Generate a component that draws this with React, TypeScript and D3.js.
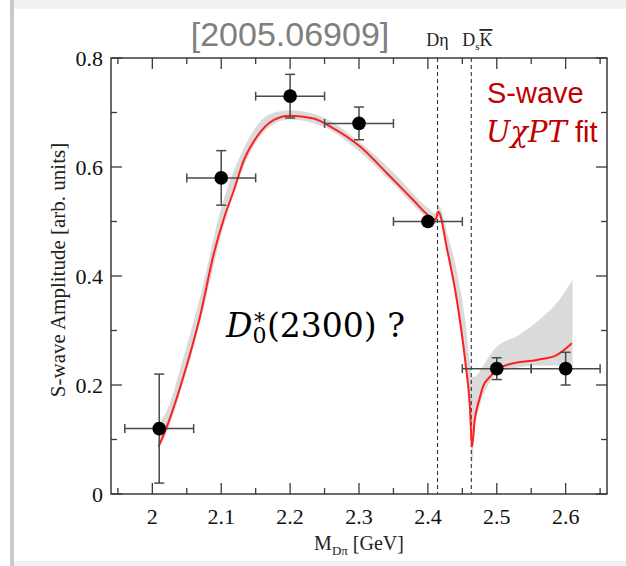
import React, { useEffect, useRef } from 'react';
import * as d3 from 'd3';

// measured points (lattice-like data)
const massBins = [2.01, 2.1, 2.2, 2.3, 2.4, 2.5, 2.6];
const amplitudes = [0.12, 0.58, 0.73, 0.68, 0.5, 0.23, 0.23];
const ampErrors = [0.1, 0.05, 0.04, 0.03, 0, 0.02, 0.03];
const binHalfWidths = [0.05, 0.05, 0.05, 0.05, 0.05, 0.05, 0.05];

// UχPT fit curve
const fitMass = [2.009, 2.02, 2.045, 2.07, 2.089, 2.105, 2.118, 2.133, 2.152, 2.176, 2.2, 2.234, 2.263, 2.302, 2.341, 2.379, 2.4, 2.411, 2.415, 2.428, 2.442, 2.454, 2.461, 2.464, 2.468, 2.475, 2.48, 2.49, 2.5, 2.524, 2.558, 2.587, 2.609];
const fitAmp = [0.087, 0.12, 0.215, 0.33, 0.44, 0.51, 0.556, 0.613, 0.656, 0.686, 0.694, 0.689, 0.671, 0.637, 0.588, 0.539, 0.512, 0.503, 0.518, 0.448, 0.356, 0.246, 0.16, 0.087, 0.136, 0.175, 0.197, 0.215, 0.2275, 0.24, 0.246, 0.255, 0.2765];

// uncertainty band
const bandMass = [2.01, 2.02, 2.045, 2.07, 2.1, 2.133, 2.17, 2.2, 2.25, 2.3, 2.35, 2.4, 2.411, 2.415, 2.43, 2.445, 2.455, 2.461, 2.464, 2.468, 2.475, 2.49, 2.5, 2.53, 2.56, 2.59, 2.61];
const bandLow = [0.085, 0.11, 0.205, 0.318, 0.475, 0.602, 0.674, 0.687, 0.673, 0.629, 0.569, 0.505, 0.495, 0.508, 0.44, 0.335, 0.235, 0.14, 0.05, 0.12, 0.16, 0.205, 0.22, 0.232, 0.236, 0.236, 0.234];
const bandHigh = [0.13, 0.15, 0.25, 0.365, 0.525, 0.635, 0.697, 0.704, 0.69, 0.647, 0.59, 0.525, 0.515, 0.53, 0.47, 0.39, 0.31, 0.24, 0.215, 0.215, 0.225, 0.255, 0.27, 0.29, 0.318, 0.355, 0.393];

const thresholds = [2.414, 2.463];
const xMajorTicks = [2, 2.1, 2.2, 2.3, 2.4, 2.5, 2.6];
const xMinorTicks = [1.95, 2.05, 2.15, 2.25, 2.35, 2.45, 2.55, 2.65];
const yMajorTicks = [0, 0.2, 0.4, 0.6, 0.8];
const yMinorTicks = [0.1, 0.3, 0.5, 0.7];

export default function App() {
  const ref = useRef<SVGSVGElement>(null);

  useEffect(() => {
    const svg = d3.select(ref.current);
    svg.selectAll('*').remove();

    const left = 111, right = 607, top = 58, bottom = 494;
    const x = d3.scaleLinear().domain([1.94, 2.66]).range([left, right]);
    const y = d3.scaleLinear().domain([0, 0.8]).range([bottom, top]);
    const frameColor = '#3a3a3a';
    const serif = '"Liberation Serif", "Times New Roman", serif';

    // page card look
    svg.append('rect').attr('width', 626).attr('height', 566).attr('fill', '#ffffff');
    svg.append('rect').attr('x', 12).attr('y', 0).attr('width', 614).attr('height', 9).attr('fill', '#f1f1f1');
    svg.append('rect').attr('x', 12).attr('y', 561).attr('width', 614).attr('height', 5).attr('fill', '#f1f1f1');
    svg.append('rect').attr('x', 10).attr('y', 0).attr('width', 4).attr('height', 566).attr('fill', '#c9c9c9');

    // band
    const band = bandMass.map((m, i) => ({ m, lo: bandLow[i], hi: bandHigh[i] }));
    svg.append('path')
      .datum(band)
      .attr('d', d3.area<any>().x(d => x(d.m)).y0(d => y(d.lo)).y1(d => y(d.hi)).curve(d3.curveMonotoneX))
      .attr('fill', '#dadada');

    // threshold lines
    svg.selectAll('.thr')
      .data(thresholds)
      .enter()
      .append('line')
      .attr('x1', d => x(d)).attr('x2', d => x(d))
      .attr('y1', top).attr('y2', bottom)
      .attr('stroke', '#333').attr('stroke-width', 1.1)
      .attr('stroke-dasharray', '4,3');

    // fit
    const fit = fitMass.map((m, i) => ({ m, a: fitAmp[i] }));
    svg.append('path')
      .datum(fit)
      .attr('d', d3.line<any>().x(d => x(d.m)).y(d => y(d.a)).curve(d3.curveMonotoneX))
      .attr('fill', 'none')
      .attr('stroke', '#ff1f1f')
      .attr('stroke-width', 2);

    // frame
    svg.append('rect')
      .attr('x', left).attr('y', top)
      .attr('width', right - left).attr('height', bottom - top)
      .attr('fill', 'none').attr('stroke', frameColor).attr('stroke-width', 1.5);

    const g = svg.append('g').attr('stroke', frameColor).attr('stroke-width', 1.3);
    const xTicks = [...xMajorTicks.map(v => ({ v, len: 11 })), ...xMinorTicks.map(v => ({ v, len: 6 }))];
    xTicks.forEach(t => {
      g.append('line').attr('x1', x(t.v)).attr('x2', x(t.v)).attr('y1', bottom).attr('y2', bottom - t.len);
      g.append('line').attr('x1', x(t.v)).attr('x2', x(t.v)).attr('y1', top).attr('y2', top + t.len);
    });
    const yTicks = [...yMajorTicks.map(v => ({ v, len: 11 })), ...yMinorTicks.map(v => ({ v, len: 6 }))];
    yTicks.forEach(t => {
      g.append('line').attr('x1', left).attr('x2', left + t.len).attr('y1', y(t.v)).attr('y2', y(t.v));
      g.append('line').attr('x1', right).attr('x2', right - t.len).attr('y1', y(t.v)).attr('y2', y(t.v));
    });

    svg.selectAll('.xl')
      .data(xMajorTicks)
      .enter()
      .append('text')
      .attr('x', d => x(d)).attr('y', bottom + 30)
      .attr('text-anchor', 'middle')
      .attr('font-family', serif).attr('font-size', 22).attr('fill', '#111')
      .text(d => String(d));

    svg.selectAll('.yl')
      .data(yMajorTicks)
      .enter()
      .append('text')
      .attr('x', left - 8).attr('y', d => y(d) + 8)
      .attr('text-anchor', 'end')
      .attr('font-family', serif).attr('font-size', 22).attr('fill', '#111')
      .text(d => String(d));

    // error bars + points
    const pts = massBins.map((m, i) => ({ m, a: amplitudes[i], e: ampErrors[i], w: binHalfWidths[i] }));
    const eb = svg.append('g').attr('stroke', '#4a4a4a').attr('stroke-width', 1.5);
    pts.forEach(p => {
      eb.append('line').attr('x1', x(p.m - p.w)).attr('x2', x(p.m + p.w)).attr('y1', y(p.a)).attr('y2', y(p.a));
      eb.append('line').attr('x1', x(p.m - p.w)).attr('x2', x(p.m - p.w)).attr('y1', y(p.a) - 4.5).attr('y2', y(p.a) + 4.5);
      eb.append('line').attr('x1', x(p.m + p.w)).attr('x2', x(p.m + p.w)).attr('y1', y(p.a) - 4.5).attr('y2', y(p.a) + 4.5);
      if (p.e > 0) {
        eb.append('line').attr('x1', x(p.m)).attr('x2', x(p.m)).attr('y1', y(p.a - p.e)).attr('y2', y(p.a + p.e));
        eb.append('line').attr('x1', x(p.m) - 5).attr('x2', x(p.m) + 5).attr('y1', y(p.a - p.e)).attr('y2', y(p.a - p.e));
        eb.append('line').attr('x1', x(p.m) - 5).attr('x2', x(p.m) + 5).attr('y1', y(p.a + p.e)).attr('y2', y(p.a + p.e));
      }
    });
    svg.selectAll('.pt')
      .data(pts)
      .enter()
      .append('circle')
      .attr('cx', d => x(d.m)).attr('cy', d => y(d.a))
      .attr('r', 6.8).attr('fill', '#000');

    // axis titles
    svg.append('text')
      .attr('transform', `translate(65, 270) rotate(-90)`)
      .attr('text-anchor', 'middle')
      .attr('font-family', serif).attr('font-size', 21).attr('fill', '#222')
      .text('S-wave Amplitude [arb. units]');

    const xt = svg.append('text')
      .attr('x', 359).attr('y', 550)
      .attr('text-anchor', 'middle')
      .attr('font-family', serif).attr('font-size', 20).attr('fill', '#222');
    xt.append('tspan').text('M');
    xt.append('tspan').attr('font-size', 13).attr('dy', 5).text('Dπ');
    xt.append('tspan').attr('dy', -5).text(' [GeV]');

    // threshold labels
    svg.append('text')
      .attr('x', x(thresholds[0])).attr('y', 46)
      .attr('text-anchor', 'middle')
      .attr('font-family', serif).attr('font-size', 18).attr('fill', '#222')
      .text('Dη');
    const ds = svg.append('text')
      .attr('x', x(thresholds[1]) + 6).attr('y', 46)
      .attr('text-anchor', 'middle')
      .attr('font-family', serif).attr('font-size', 18).attr('fill', '#222');
    ds.append('tspan').text('D');
    ds.append('tspan').attr('font-size', 11).attr('dy', 4).text('s');
    ds.append('tspan').attr('dy', -4).attr('text-decoration', 'overline').text('K');

    // reference tag
    svg.append('text')
      .attr('x', 290).attr('y', 46)
      .attr('text-anchor', 'middle')
      .attr('font-family', '"Liberation Sans", Arial, sans-serif').attr('font-size', 34)
      .attr('fill', '#7f7f7f')
      .text('[2005.06909]');

    // legend text
    svg.append('text')
      .attr('x', 487).attr('y', 103)
      .attr('font-family', '"Liberation Sans", Arial, sans-serif').attr('font-size', 29)
      .attr('fill', '#c00000')
      .text('S-wave');
    const leg = svg.append('text')
      .attr('x', 486).attr('y', 142)
      .attr('font-size', 29).attr('fill', '#c00000');
    leg.append('tspan').attr('font-family', '"DejaVu Serif", serif').attr('font-style', 'italic').text('UχPT');
    leg.append('tspan').attr('font-family', '"Liberation Sans", Arial, sans-serif').text(' fit');

    // resonance annotation
    const ann = svg.append('text')
      .attr('x', 226).attr('y', 337)
      .attr('font-family', '"DejaVu Serif", serif').attr('font-size', 33).attr('fill', '#000');
    ann.append('tspan').attr('font-style', 'italic').text('D');
    ann.append('tspan').attr('font-size', 22).attr('dy', 6).text('0');
    ann.append('tspan').attr('font-size', 22).attr('dx', -12.5).attr('dy', -14).text('*');
    ann.append('tspan').attr('dx', 2).attr('dy', 8).text('(2300) ?');
  }, []);

  return (
    <div style={{ position: 'absolute', left: 0, top: 0 }}>
      <svg ref={ref} width={626} height={566} style={{ display: 'block' }} />
    </div>
  );
}
